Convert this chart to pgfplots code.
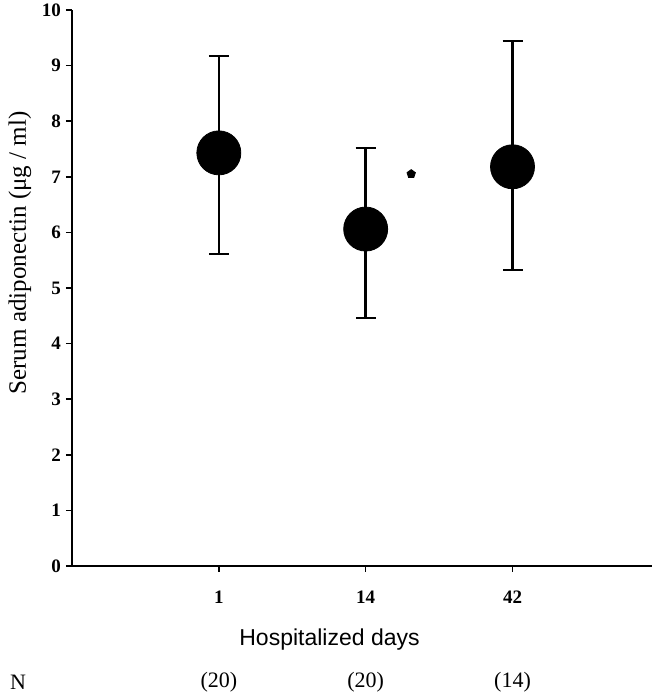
\documentclass[border=0pt]{standalone}
\usepackage{fontspec}
\setmainfont{Liberation Serif}
\newfontfamily\arialf{Liberation Sans}
\usepackage{pgfplots}
\pgfplotsset{compat=1.18}
\begin{document}
\begin{tikzpicture}
\path[use as bounding box] (-36pt,-64pt) rectangle (290pt,283pt);
\begin{axis}[
  scale only axis,
  width=290pt, height=278pt,
  xmin=0, xmax=3.95,
  ymin=0, ymax=10,
  axis x line*=bottom,
  axis y line*=left,
  axis line style={line width=1.1pt},
  xtick={1,2,3},
  xticklabels={1,14,42},
  ytick={0,1,...,10},
  tick align=outside,
  major tick length=3pt,
  tick style={line width=0.8pt, black},
  /pgf/number format/assume math mode=true,
  ticklabel style={font=\fontsize{9.5}{11}\selectfont\bfseries},
  yticklabel style={xshift=1pt},
  xticklabel style={yshift=-6pt},
  xlabel={Hospitalized days},
  xlabel style={font=\arialf\fontsize{11.5}{13}\selectfont, at={(axis description cs:0.444,0)}, anchor=center, yshift=-37pt},
  ylabel={Serum adiponectin (μg / ml)},
  ylabel style={font=\fontsize{12.5}{14}\selectfont, at={(axis description cs:-0.09,0.563)}, anchor=center},
  clip=false,
]
\addplot[black, only marks, mark=*, mark size=11pt,
  error bars/.cd, y dir=both, y explicit,
  error bar style={line width=1.2pt, black},
  error mark options={rotate=90, mark size=5pt, line width=1.2pt, black}]
  coordinates {
    (1,7.43) += (0,1.74) -= (0,1.82)
    (2,6.06) += (0,1.46) -= (0,1.60)
    (3,7.18) += (0,2.26) -= (0,1.86)
  };
% significance mark
\addplot[black, only marks, mark=pentagon*, mark size=2.2pt] coordinates {(2.31,7.05)};
% N per group
\node[font=\fontsize{11}{13}\selectfont] at ([yshift=-58pt]axis cs:1,0) {(20)};
\node[font=\fontsize{11}{13}\selectfont] at ([yshift=-58pt]axis cs:2,0) {(20)};
\node[font=\fontsize{11}{13}\selectfont] at ([yshift=-58pt]axis cs:3,0) {(14)};
\node[font=\fontsize{11}{13}\selectfont] at ([xshift=-27pt,yshift=-58pt]axis cs:0,0) {N};
\end{axis}
\end{tikzpicture}
\end{document}
